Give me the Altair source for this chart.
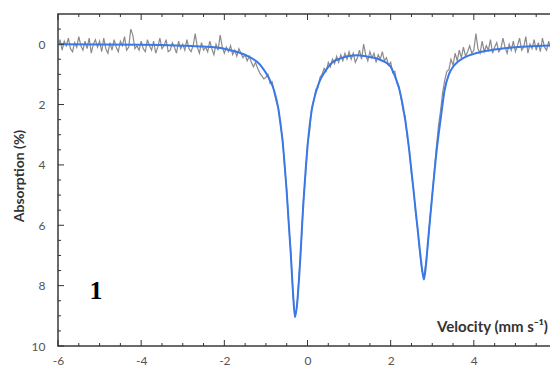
import altair as alt
import pandas as pd

# ---- blue fitted curve ----
fit_x = [-6.0, -5.0, -4.0, -3.5, -3.0, -2.5, -2.2, -2.0, -1.8, -1.6,
         -1.4, -1.3, -1.2, -1.1, -1.0, -0.9, -0.8, -0.7, -0.6, -0.5,
         -0.4, -0.35, -0.3, -0.25, -0.2, -0.1, 0.0, 0.1, 0.2, 0.3,
         0.4, 0.5, 0.6, 0.8, 1.0, 1.2, 1.4, 1.6, 1.8, 1.9,
         2.0, 2.1, 2.2, 2.3, 2.4, 2.5, 2.6, 2.7, 2.75, 2.8,
         2.85, 2.9, 3.0, 3.1, 3.2, 3.3, 3.4, 3.5, 3.6, 3.8,
         4.0, 4.4, 5.0, 5.5, 6.0]
fit_y = [0.0, 0.01, 0.02, 0.03, 0.05, 0.08, 0.11, 0.15, 0.22, 0.3,
         0.42, 0.5, 0.6, 0.75, 0.95, 1.2, 1.55, 2.15, 3.2, 4.9,
         7.0, 8.2, 9.05, 8.6, 7.7, 5.3, 3.4, 2.2, 1.6, 1.2,
         0.95, 0.75, 0.6, 0.47, 0.39, 0.37, 0.4, 0.45, 0.55, 0.62,
         0.75, 1.05, 1.45, 2.1, 3.0, 4.2, 5.5, 6.8, 7.4, 7.8,
         7.3, 6.5, 5.0, 3.6, 2.5, 1.5, 1.0, 0.75, 0.6, 0.42,
         0.32, 0.2, 0.1, 0.06, 0.03]

# ---- grey measured spectrum, channels every 0.05 mm/s from -6 ----
data_y = [
    0.1, -0.15, 0.2, -0.1, 0.05, -0.2, 0.15, 0.25, -0.05, 0.1, -0.25, 0.05, 0.2, -0.1, 0.15, -0.2, 0.3, 0.0, -0.15, 0.1,
    -0.1, 0.25, -0.2, 0.15, 0.3, -0.05, 0.2, -0.15, 0.1, 0.25, -0.1, 0.05, -0.25, 0.2, 0.1, -0.5, -0.3, 0.15, 0.05, 0.2,
    -0.1, 0.15, 0.25, -0.15, 0.05, 0.2, -0.1, 0.3, 0.1, -0.2, 0.15, 0.05, -0.15, 0.25, 0.2, -0.05, 0.1, 0.3, -0.1, 0.15,
    0.0, 0.2, -0.15, 0.15, 0.25, 0.05, -0.35, 0.1, 0.3, -0.05, 0.2, 0.1, 0.25, -0.1, 0.15, 0.35, 0.0, 0.2, -0.3, 0.1,
    0.3, 0.1, 0.25, 0.05, 0.35, 0.2, 0.4, 0.15, 0.3, 0.45, 0.35, 0.55, 0.4, 0.6, 0.75, 0.6, 0.8, 0.95, 1.05, 1.15,
    1.1, 1.0, 1.3, 1.25, 1.6, 1.9, 2.1, 2.7, 3.1, 4.1, 4.8, 6.0, 6.9, 8.3, 9.0, 8.7, 7.6, 6.6, 5.2, 4.4,
    3.3, 2.9, 2.1, 1.9, 1.5, 1.45, 1.1, 1.0, 0.8, 0.9, 0.6, 0.75, 0.5, 0.65, 0.4, 0.6, 0.35, 0.55, 0.3, 0.5,
    0.25, 0.5, 0.3, 0.6, 0.45, 0.2, 0.5, 0.0, 0.35, 0.55, 0.25, 0.45, 0.3, 0.6, 0.35, 0.5, 0.25, 0.55, 0.45, 0.7,
    0.6, 0.95, 0.9, 1.3, 1.4, 1.8, 2.2, 2.4, 3.1, 3.5, 4.3, 4.8, 5.6, 6.1, 6.9, 7.5, 7.7, 7.2, 6.6, 5.7,
    5.0, 4.2, 3.4, 2.7, 2.2, 1.6, 1.2, 0.9, 0.85, 0.5, 0.7, 0.3, 0.55, 0.2, 0.45, 0.1, 0.4, 0.25, 0.05, 0.3,
    0.2, -0.35, 0.15, 0.3, -0.1, 0.25, 0.05, 0.2, -0.15, 0.3, 0.1, -0.05, 0.25, 0.15, -0.2, 0.1, 0.3, 0.0, 0.2, -0.1,
    0.25, 0.05, -0.2, 0.2, 0.1, -0.25, 0.3, 0.0, 0.15, -0.15, 0.2, -0.05, 0.25, -0.2, 0.1, 0.2, -0.1, 0.15, 0.05, -0.15,
    0.1,
]
data_x = [round(-6.0 + 0.05 * i, 2) for i in range(len(data_y))]

x_label_values = [-6, -4, -2, 0, 2, 4, 6]
y_label_values = [0, 2, 4, 6, 8, 10]
x_major_ticks = [-6, -4, -2, 0, 2, 4, 6]
y_major_ticks = [0, 2, 4, 6, 8, 10]
x_minor_ticks = [-5.5, -5, -4.5, -3.5, -3, -2.5, -1.5, -1, -0.5,
                 0.5, 1, 1.5, 2.5, 3, 3.5, 4.5, 5, 5.5]
y_minor_ticks = [-0.5, 0.5, 1, 1.5, 2.5, 3, 3.5, 4.5, 5, 5.5,
                 6.5, 7, 7.5, 8.5, 9, 9.5]

W, H = 499, 332
MAJ, MIN = 6, 3
meas = pd.DataFrame({"v": data_x, "a": data_y})
fit = pd.DataFrame({"v": fit_x, "a": fit_y})
one = pd.DataFrame({"k": [0]})

XS = alt.Scale(domain=[-6, 6], nice=False, zero=False)
YS = alt.Scale(domain=[-1, 10], nice=False, zero=False, reverse=True)

TC = "#333333"
LF = "Lato"

x_lab = alt.Axis(orient="bottom", values=x_label_values, ticks=False, tickSize=0,
                 domain=False, grid=False, labelPadding=9, labelFont=LF,
                 labelFontSize=12, labelColor="#555555", labelFlush=False,
                 labelExpr="'' + datum.value", title=None)
y_lab = alt.Axis(orient="left", values=y_label_values, ticks=False, tickSize=0,
                 domain=False, grid=False, labelPadding=13, labelFont=LF,
                 labelFontSize=12, labelColor="#555555", labelFlush=False,
                 labelExpr="'' + datum.value", title=None)

grey = alt.Chart(meas).mark_line(color="#6e6e6e", strokeWidth=1.2, opacity=0.8).encode(
    x=alt.X("v:Q", scale=XS, axis=x_lab),
    y=alt.Y("a:Q", scale=YS, axis=y_lab),
)
blue = alt.Chart(fit).mark_line(color="#3a78e8", strokeWidth=2, interpolate="monotone").encode(
    x=alt.X("v:Q", scale=XS, axis=x_lab),
    y=alt.Y("a:Q", scale=YS, axis=y_lab),
)

def xticks(values, y0, y1):
    return alt.Chart(pd.DataFrame({"v": values})).mark_rule(color=TC, strokeWidth=1).encode(
        x=alt.X("v:Q", scale=XS, axis=x_lab), y=alt.value(y0), y2=alt.value(y1))

def yticks(values, x0, x1):
    return alt.Chart(pd.DataFrame({"a": values})).mark_rule(color=TC, strokeWidth=1).encode(
        y=alt.Y("a:Q", scale=YS, axis=y_lab), x=alt.value(x0), x2=alt.value(x1))

tick_layers = [
    xticks(x_major_ticks, H, H - MAJ), xticks(x_minor_ticks, H, H - MIN),
    xticks(x_major_ticks, 0, MAJ), xticks(x_minor_ticks, 0, MIN),
    yticks(y_major_ticks, 0, MAJ), yticks(y_minor_ticks, 0, MIN),
    yticks(y_major_ticks, W, W - MAJ), yticks(y_minor_ticks, W, W - MIN),
]

num = alt.Chart(one).mark_text(font="Liberation Serif", fontWeight="bold", fontSize=26,
                               color="#000000", align="center", baseline="alphabetic").encode(
    x=alt.value(38), y=alt.value(285), text=alt.value("1"))
vel = alt.Chart(one).mark_text(font=LF, fontWeight="bold", fontSize=15, color="#333333",
                               align="right", baseline="alphabetic").encode(
    x=alt.value(490), y=alt.value(318), text=alt.value("Velocity (mm s\u207b\u00b9)"))
ytitle = alt.Chart(one).mark_text(font=LF, fontWeight="bold", fontSize=14, color="#333333",
                                  align="center", baseline="middle", angle=270).encode(
    x=alt.value(-38), y=alt.value(162), text=alt.value("Absorption (%)"))

chart = alt.layer(grey, blue, *tick_layers, num, vel, ytitle).properties(
    width=W, height=H,
    autosize=alt.AutoSizeParams(type="none"),
    padding={"left": 50, "top": 6, "right": -7, "bottom": 20},
).configure_view(stroke="#3a3a3a", strokeWidth=1.5)

chart.save("out.html", embed_options={"renderer": "svg", "actions": False})
